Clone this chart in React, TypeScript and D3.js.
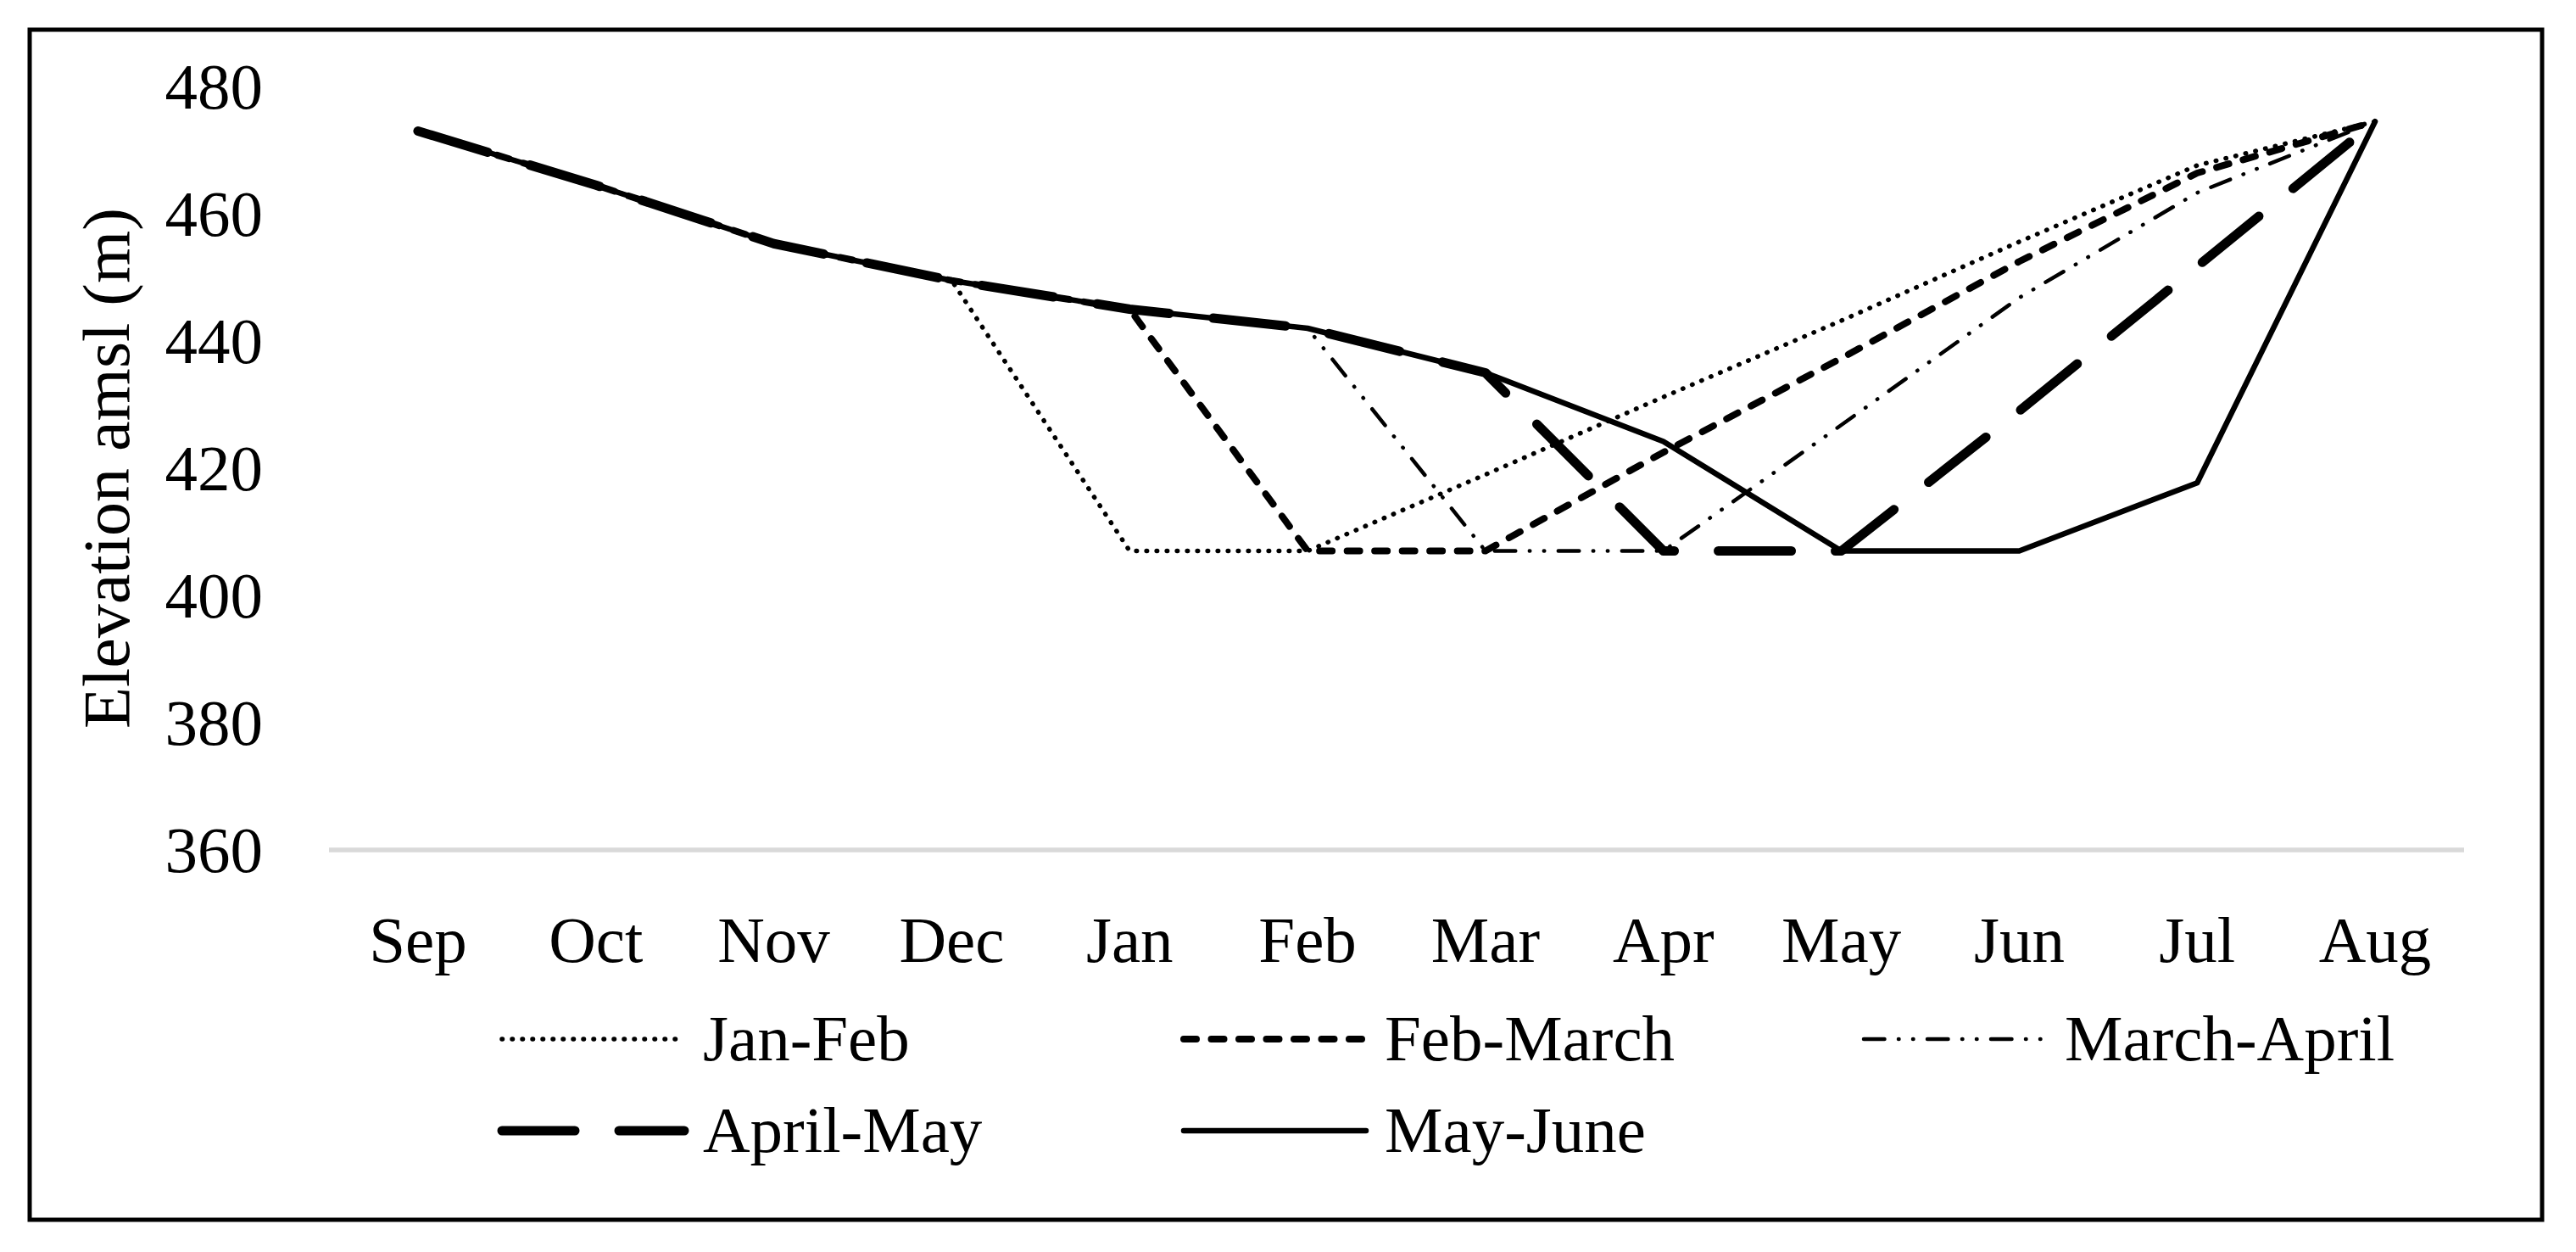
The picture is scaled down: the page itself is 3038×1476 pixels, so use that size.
import React from "react";
import * as d3 from "d3";

const months = ["Sep", "Oct", "Nov", "Dec", "Jan", "Feb", "Mar", "Apr", "May", "Jun", "Jul", "Aug"];
const yTicks = [360, 380, 400, 420, 440, 460, 480];

const janFeb = [473, 464.5, 455.3, 449.5, 407, 407, 419, 431.2, 443.2, 455.6, 467.6, 474.5];
const febMarch = [473, 464.5, 455.3, 449.5, 445, 407, 407, 422.5, 437.3, 452.5, 466.4, 474.5];
const marchApril = [473, 464.5, 455.3, 449.5, 445, 442, 407, 407, 426.8, 446.8, 463.3, 474.5];
const aprilMay = [473, 464.5, 455.3, 449.5, 445, 442, 435, 407, 407, 429, 451.7, 474.5];
const mayJune = [473, 464.5, 455.3, 449.5, 445, 442, 435, 424.2, 407, 407, 417.7, 474.5];

const seriesNames = ["Jan-Feb", "Feb-March", "March-April", "April-May", "May-June"];
const seriesValues = [janFeb, febMarch, marchApril, aprilMay, mayJune];
const seriesStyles = [
  { w: 5.5, dash: "0.5 11.5" },
  { w: 8, dash: "15 17.5" },
  { w: 4.5, dash: "24.5 16.5 0.5 16.5 0.5 16.5" },
  { w: 11, dash: "86 52" },
  { w: 6.5, dash: "none" },
];

const FONT = "'Liberation Serif', 'Times New Roman', serif";
const FS = 77;

export default function App() {
  const W = 3038;
  const H = 1476;
  const x = d3.scalePoint<string>().domain(months).range([388, 2906]).padding(0.5);
  const y = d3.scaleLinear().domain([360, 480]).range([1002, 102]);
  const line = d3
    .line<number>()
    .x((_, i) => x(months[i]) as number)
    .y((v) => y(v));

  const legendCols = [592, 1396, 2198];
  const legendRows = [1250, 1358];
  const sampleLen = 215;

  return (
    <svg
      width={W}
      height={H}
      style={{ position: "absolute", left: 0, top: 0, display: "block", background: "#fff" }}
    >
      <rect x={0} y={0} width={W} height={H} fill="#fff" />
      <rect x={35} y={35} width={2963} height={1403} fill="none" stroke="#000" strokeWidth={5} />

      <line x1={388} x2={2906} y1={y(360)} y2={y(360)} stroke="#d9d9d9" strokeWidth={5.5} />

      {yTicks.map((t) => (
        <text
          key={t}
          x={310}
          y={y(t) + 26}
          textAnchor="end"
          fontFamily={FONT}
          fontSize={FS}
          fill="#000"
        >
          {t}
        </text>
      ))}

      <text
        transform={`translate(152,552) rotate(-90)`}
        textAnchor="middle"
        fontFamily={FONT}
        fontSize={78}
        textLength={614}
        lengthAdjust="spacingAndGlyphs"
        fill="#000"
      >
        Elevation amsl (m)
      </text>

      {months.map((m) => (
        <text
          key={m}
          x={x(m) as number}
          y={1134}
          textAnchor="middle"
          fontFamily={FONT}
          fontSize={FS}
          fill="#000"
        >
          {m}
        </text>
      ))}

      {seriesValues.map((vals, i) => (
        <path
          key={seriesNames[i]}
          d={line(vals) || ""}
          fill="none"
          stroke="#000"
          strokeWidth={seriesStyles[i].w}
          strokeDasharray={seriesStyles[i].dash}
          strokeLinecap="round"
          strokeLinejoin="round"
        />
      ))}

      {seriesNames.map((name, i) => {
        const col = i % 3;
        const row = Math.floor(i / 3);
        const x0 = legendCols[col];
        const by = legendRows[row];
        const ly = by - 25;
        return (
          <g key={name}>
            <line
              x1={x0}
              x2={x0 + sampleLen}
              y1={ly}
              y2={ly}
              stroke="#000"
              strokeWidth={seriesStyles[i].w}
              strokeDasharray={seriesStyles[i].dash}
              strokeLinecap="round"
            />
            <text x={x0 + 237} y={by} fontFamily={FONT} fontSize={FS} fill="#000">
              {name}
            </text>
          </g>
        );
      })}
    </svg>
  );
}
